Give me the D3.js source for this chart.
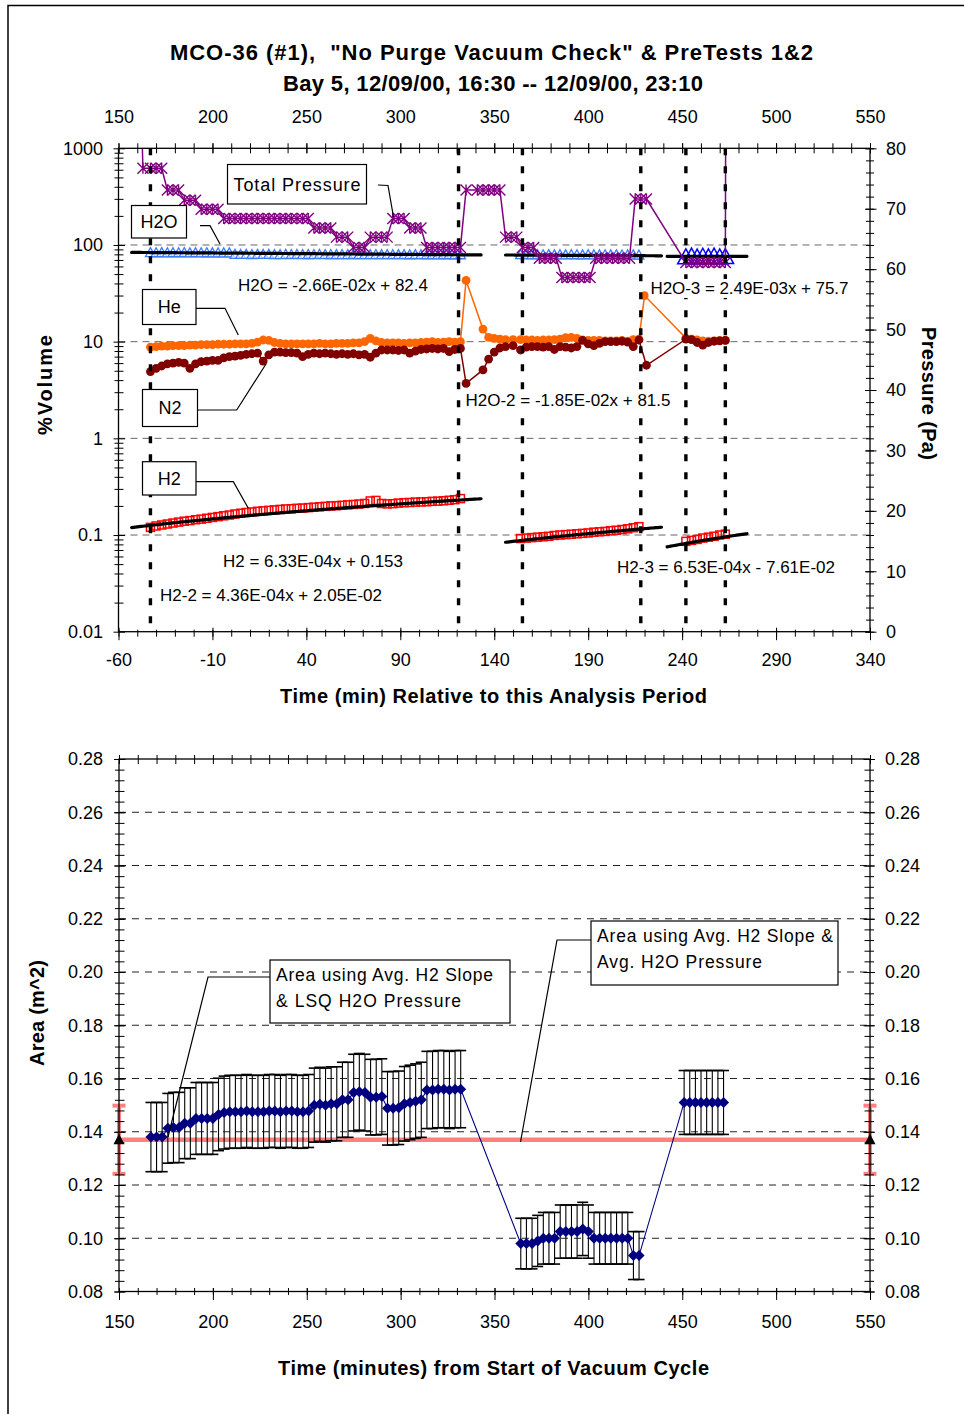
<!DOCTYPE html>
<html><head><meta charset="utf-8">
<script src="https://cdn.jsdelivr.net/npm/d3@7"></script>
<style>
html,body{margin:0;padding:0;background:#fff;}
svg{display:block;font-family:"Liberation Sans",Arial,Helvetica,sans-serif;}
text{white-space:pre;}
</style></head><body>
<svg id="chart" width="964" height="1414"></svg>
<script>
// ================= data =================
// Upper panel: minutes relative to this analysis period
const relTime1 = [-43,-40,-37,-34,-31,-28,-25,-22,-19,-16,
  -13,-10,-7,-4,-1,2,5,8,11,14,
  17,20,23,26,29,32,35,38,41,44,
  47,50,53,56,59,62,65,68,71,74,
  77,80,83,86,89,92,95,98,101,104,
  107,110,113,116,119,122];
const relTime2 = [154,157,160,163,166,169,172,175,178,181,184,187,190,193,196,199,202,205,208,211,214,217];
const relTime3 = [242,245,248,251,254,257,260,263];
const recoveryTime = [125,134,137,140,143,146,150];

// Total pressure (Pa), right axis
const tpTime = [-50,-47,
  -43,-40,-37,-34,-31,-28,-25,-22,-19,-16,
  -13,-10,-7,-4,-1,2,5,8,11,14,
  17,20,23,26,29,32,35,38,41,44,
  47,50,53,56,59,62,65,68,71,74,
  77,80,83,86,89,92,95,98,101,104,
  107,110,113,116,119,122,
  125,131,134,137,140,143,
  146,149,152,155,158,161,164,167,170,173,176,179,182,185,188,191,194,197,200,203,206,209,212,215,218,221,
  242,245,248,251,254,257,260,263,263.4];
const tpVal = [110,76.7,
  76.7,76.7,76.7,73.1,73.1,73.1,71.4,71.4,71.4,69.9,
  69.9,69.9,69.9,68.4,68.4,68.4,68.4,68.4,68.4,68.4,
  68.4,68.4,68.4,68.4,68.4,68.4,68.4,68.4,68.4,66.8,
  66.8,66.8,66.8,65.3,65.3,65.3,63.6,63.6,63.6,65.3,
  65.3,65.3,65.3,68.4,68.4,68.4,66.8,66.8,66.8,63.6,
  63.6,63.6,63.6,63.6,63.6,63.6,
  73.1,73.1,73.1,73.1,73.1,73.1,
  65.3,65.3,65.3,63.6,63.6,63.6,61.8,61.8,61.8,61.8,58.6,58.6,58.6,58.6,58.6,58.6,61.8,61.8,61.8,61.8,61.8,61.8,61.8,71.6,71.6,71.6,
  61.1,61.1,61.1,61.1,61.1,61.1,61.1,61.1,110];

// H2O (%Volume)
const h2oSeg1 = [83.4,83.2,83.5,83.1,83.3,83.2,83.4,83.0,83.3,83.1,
  83.2,83.0,83.1,82.9,83.0,80.1,79.9,80.2,79.8,80.0,
  79.9,80.1,79.8,79.7,80.0,79.8,79.9,79.6,79.8,79.7,
  79.9,79.6,79.8,79.5,79.7,79.6,79.8,79.5,79.6,79.4,
  79.7,79.5,79.6,79.4,79.5,79.6,79.3,79.5,79.4,79.3,
  79.5,79.2,79.4,79.3,79.1,79.3];
const h2oSeg2 = [79.4,79.6,79.2,79.5,79.3,79.6,79.1,79.4,79.2,79.5,79.3,79.0,79.4,79.2,79.1,79.3,79.0,79.2,78.9,79.1,79.0,78.8];
const h2oSeg3 = [75.0,76.2,74.6,76.0,74.8,76.3,74.7,75.5];

// He (%Volume)
const heSeg1 = [8.8,8.9,9.0,9.0,9.1,9.1,9.1,9.2,9.2,9.3,
  9.3,9.3,9.4,9.4,9.4,9.5,9.5,9.5,9.6,9.9,
  10.4,10.3,9.8,9.6,9.5,9.5,9.5,9.5,9.5,9.5,
  9.6,9.5,9.5,9.6,9.6,9.6,9.7,9.7,10.0,10.8,
  10.2,9.8,9.7,9.7,9.7,9.6,9.7,9.7,9.8,9.9,
  10.0,9.8,9.9,10.0,9.9,10.0];
const heRecovery = [43,13.5,11.1,10.8,10.6,10.5,10.5];
const heSeg2 = [10.5,10.4,10.4,10.3,10.4,10.4,10.5,10.6,11.0,11.1,10.8,10.4,10.3,10.3,10.3,10.2,10.2,10.2,10.3,10.1,10.5,10.6];
const hePeakTime = 220, hePeak = 30;
const heSeg3 = [10.9,10.6,10.4,10.2,10.1,10.2,10.3,10.3];

// N2 (%Volume)
const n2Seg1 = [4.9,5.3,5.6,5.9,6.0,6.1,6.0,5.3,5.9,6.2,
  6.3,6.4,6.4,6.8,7.0,7.1,7.2,7.4,7.5,7.6,
  6.3,7.3,7.8,7.8,7.7,7.7,7.6,7.0,7.4,7.6,
  7.5,7.6,7.5,7.4,7.5,7.4,7.5,7.3,7.4,6.9,
  7.6,8.2,8.2,8.2,8.1,8.2,7.6,8.0,8.3,8.4,
  8.5,8.4,8.5,7.9,8.3,8.5];
const n2Recovery = [3.7,5.1,6.6,7.8,8.6,8.9,9.1];
const n2Seg2 = [8.2,8.8,8.9,8.9,8.8,8.9,8.3,8.9,8.8,8.6,8.9,10.3,9.5,9.1,9.6,10.0,10.0,10.0,10.1,9.9,8.9,10.4];
const n2DipTime = 221, n2Dip = 5.7;
const n2Seg3 = [10.6,10.5,9.8,9.2,9.8,10.1,10.2,10.3];

// H2 (%Volume)
const h2Seg1 = [0.120,0.124,0.127,0.130,0.133,0.136,0.139,0.141,0.144,0.146,
  0.149,0.152,0.155,0.158,0.161,0.165,0.168,0.171,0.173,0.176,
  0.178,0.180,0.182,0.184,0.186,0.187,0.189,0.190,0.192,0.194,
  0.196,0.198,0.200,0.201,0.203,0.205,0.207,0.209,0.212,0.225,
  0.228,0.212,0.210,0.211,0.214,0.216,0.217,0.219,0.220,0.221,
  0.223,0.224,0.226,0.229,0.232,0.238];
const h2Seg2 = [0.092,0.093,0.094,0.095,0.096,0.097,0.099,0.100,0.101,0.102,0.103,0.104,0.105,0.107,0.108,0.109,0.111,0.112,0.114,0.116,0.119,0.122];
const h2Seg3 = [0.086,0.088,0.090,0.093,0.095,0.097,0.100,0.102];

// Least-squares fits quoted on the chart
const fitLabels = ["H2O = -2.66E-02x + 82.4","H2O-2 = -1.85E-02x + 81.5","H2O-3 = 2.49E-03x + 75.7",
                   "H2 = 6.33E-04x + 0.153","H2-2 = 4.36E-04x + 2.05E-02","H2-3 = 6.53E-04x - 7.61E-02"];
const fitSlope = [-2.66e-2,-1.85e-2,2.49e-3,6.33e-4,4.36e-4,6.53e-4];
const fitIntercept = [82.4,81.5,75.7,0.153,2.05e-2,-7.61e-2];
const fitStart = [-53,146,232,-53,146,232];
const fitEnd = [133,229,274.5,133,229,274.5];

// Analysis period boundaries (relative minutes)
const periodBounds = [-43,121,155,218,242,263];

// Lower panel: minutes from start of vacuum cycle
const cycTime1 = [167,170,173,176,179,182,185,188,191,194,
  197,200,203,206,209,212,215,218,221,224,
  227,230,233,236,239,242,245,248,251,254,
  257,260,263,266,269,272,275,278,281,284,
  287,290,293,296,299,302,305,308,311,314,
  317,320,323,326,329,332];
const area1 = [0.138,0.138,0.138,0.1413,0.1416,0.1416,0.1432,0.1432,0.145,0.145,
  0.145,0.145,0.1465,0.1472,0.1475,0.1475,0.1475,0.1478,0.1475,0.1475,
  0.1475,0.1478,0.1478,0.1475,0.1478,0.1478,0.1475,0.1475,0.1478,0.150,
  0.1503,0.150,0.1505,0.1505,0.152,0.152,0.1547,0.155,0.1547,0.153,
  0.153,0.1532,0.1488,0.1488,0.149,0.1505,0.151,0.1515,0.152,0.1557,
  0.1557,0.156,0.156,0.1557,0.156,0.156];
const areaErr1 = [0.0130,0.0130,0.0130,0.0131,0.0132,0.0132,0.0133,0.0133,0.0135,0.0135,
  0.0135,0.0135,0.0136,0.0137,0.0137,0.0137,0.0137,0.0137,0.0137,0.0137,
  0.0137,0.0137,0.0137,0.0137,0.0137,0.0137,0.0137,0.0137,0.0137,0.0139,
  0.0139,0.0139,0.0139,0.0139,0.0141,0.0141,0.0144,0.0144,0.0144,0.0142,
  0.0142,0.0142,0.0138,0.0138,0.0138,0.0140,0.0140,0.0140,0.0141,0.0145,
  0.0145,0.0145,0.0145,0.0145,0.0145,0.0145];
const cycTime2 = [364,367,370,373,376,379,382,385,388,391,394,397,400,403,406,409,412,415,418,421,424,427];
const area2 = [0.098,0.098,0.098,0.099,0.100,0.100,0.100,0.1025,0.1025,0.1025,0.1025,0.1035,0.1025,0.100,0.100,0.100,0.100,0.100,0.100,0.100,0.0935,0.0935];
const areaErr2 = [0.0095,0.0095,0.0095,0.0096,0.0097,0.0097,0.0097,0.0100,0.0100,0.0100,0.0100,0.0100,0.0100,0.0097,0.0097,0.0097,0.0097,0.0097,0.0097,0.0097,0.0090,0.0090];
const cycTime3 = [451,454,457,460,463,466,469,472];
const area3 = [0.151,0.151,0.151,0.151,0.151,0.151,0.151,0.151];
const areaErr3 = [0.012,0.012,0.012,0.012,0.012,0.012,0.012,0.012];
const avgArea = 0.137, avgAreaErr = 0.0128;

// Tick labels
const pctTicks = [0.01,0.1,1,10,100,1000];
const paTicks = [0,10,20,30,40,50,60,70,80];
const relTicks = [-60,-10,40,90,140,190,240,290,340];
const cycTicks = [150,200,250,300,350,400,450,500,550];
const areaTicks = [0.08,0.10,0.12,0.14,0.16,0.18,0.20,0.22,0.24,0.26,0.28];

// ================= drawing =================
const svg = d3.select("#chart");
const defs = svg.append("defs");

// page frame (top and left edges)
svg.append("polyline").attr("points","8,1414 8,5.5 964,5.5")
  .attr("fill","none").attr("stroke","#000").attr("stroke-width",1.5);

function styleAxis(g, side, inner) {
  g.select(".domain").remove();
  const ln = g.selectAll(".tick line").attr("stroke","#000");
  if (side === "left") ln.attr("x1", inner);
  if (side === "right") ln.attr("x1", -inner);
  if (side === "bottom") ln.attr("y1", -inner);
  if (side === "top") ln.attr("y1", inner);
  g.attr("font-size", null).attr("font-family", null);
  g.selectAll("text").attr("font-size", 18).attr("fill", "#000");
}

function addText(g, str, x, y, opts) {
  const t = g.append("text").attr("x", x).attr("y", y).text(str)
    .attr("font-size", opts.size || 17)
    .attr("font-weight", opts.bold ? "bold" : null)
    .attr("text-anchor", opts.anchor || "middle")
    .attr("dy", "0.35em").attr("fill", "#000");
  if (opts.len) t.attr("textLength", opts.len).attr("lengthAdjust", "spacing");
  if (opts.rotate) t.attr("transform", `rotate(${opts.rotate},${x},${y})`);
  return t;
}

const pts = (ts, vs) => ts.map((t, i) => [t, vs[i]]);
const plain = d => String(d);

// ---------- upper panel ----------
const P1 = {l:118.5, r:870, t:148.3, b:631.7};
const xRel = d3.scaleLinear().domain([-60,340]).range([P1.l,P1.r]);
const xCyc = d3.scaleLinear().domain([150,550]).range([P1.l,P1.r]);
const yPct = d3.scaleLog().domain([0.01,1000]).range([P1.b,P1.t]);
const yPa = d3.scaleLinear().domain([0,80]).range([P1.b,P1.t]);

defs.append("clipPath").attr("id","clipTop").append("rect")
  .attr("x",P1.l).attr("y",P1.t).attr("width",P1.r-P1.l).attr("height",P1.b-P1.t);

const upper = svg.append("g");
// gridlines
upper.selectAll("line.grid").data([0.1,1,10,100]).join("line")
  .attr("x1",P1.l).attr("x2",P1.r).attr("y1",d=>yPct(d)).attr("y2",d=>yPct(d))
  .attr("stroke","#666").attr("stroke-width",1).attr("stroke-dasharray","7,5");

const plot1 = upper.append("g").attr("clip-path","url(#clipTop)");

// H2O triangles
const tri = s => `M0,${-s*0.55}L${s*0.55},${s*0.45}L${-s*0.55},${s*0.45}Z`;
plot1.append("g").selectAll("path")
  .data(pts(relTime1.concat(relTime2), h2oSeg1.concat(h2oSeg2))).join("path")
  .attr("d", tri(9)).attr("transform", d=>`translate(${xRel(d[0])},${yPct(d[1])})`)
  .attr("fill","#ffffff").attr("fill-opacity",0.6).attr("stroke","#3b7bff").attr("stroke-width",1.3);
plot1.append("g").selectAll("path")
  .data(pts(relTime3, h2oSeg3)).join("path")
  .attr("d", tri(15)).attr("transform", d=>`translate(${xRel(d[0])},${yPct(d[1])})`)
  .attr("fill","none").attr("stroke","#0000ff").attr("stroke-width",1.5);

// He
const heData = pts(relTime1, heSeg1).concat(pts(recoveryTime, heRecovery), pts(relTime2, heSeg2),
  [[hePeakTime, hePeak]], pts(relTime3, heSeg3));
const linePct = d3.line().x(d=>xRel(d[0])).y(d=>yPct(d[1]));
plot1.append("path").attr("d", linePct(heData)).attr("fill","none").attr("stroke","#ff6600").attr("stroke-width",1.5);
plot1.append("g").selectAll("circle").data(heData).join("circle")
  .attr("cx",d=>xRel(d[0])).attr("cy",d=>yPct(d[1])).attr("r",4.4).attr("fill","#ff6600");

// N2
const n2Data = pts(relTime1, n2Seg1).concat(pts(recoveryTime, n2Recovery), pts(relTime2, n2Seg2),
  [[n2DipTime, n2Dip]], pts(relTime3, n2Seg3));
plot1.append("path").attr("d", linePct(n2Data)).attr("fill","none").attr("stroke","#800000").attr("stroke-width",1.5);
plot1.append("g").selectAll("circle").data(n2Data).join("circle")
  .attr("cx",d=>xRel(d[0])).attr("cy",d=>yPct(d[1])).attr("r",4.4).attr("fill","#800000");

// H2 squares
const h2Data = pts(relTime1, h2Seg1).concat(pts(relTime2, h2Seg2), pts(relTime3, h2Seg3));
plot1.append("g").selectAll("rect").data(h2Data).join("rect")
  .attr("x",d=>xRel(d[0])-4).attr("y",d=>yPct(d[1])-4).attr("width",8).attr("height",8)
  .attr("fill","none").attr("stroke","#ff0000").attr("stroke-width",1.5);

// fit lines
fitSlope.forEach((m, i) => {
  const ts = d3.range(fitStart[i], fitEnd[i], 1).concat([fitEnd[i]]);
  plot1.append("path").attr("d", linePct(ts.map(t => [t, m*t + fitIntercept[i]])))
    .attr("fill","none").attr("stroke","#000").attr("stroke-width",3.2).attr("stroke-linecap","round");
});

// Total pressure
const tpData = pts(tpTime, tpVal);
const linePa = d3.line().x(d=>xRel(d[0])).y(d=>yPa(d[1]));
plot1.append("path").attr("d", linePa(tpData)).attr("fill","none").attr("stroke","#800080").attr("stroke-width",1.5);
const star = s => `M${-s},${-s}L${s},${s}M${-s},${s}L${s},${-s}M0,${-s}L0,${s}`;
plot1.append("g").selectAll("path").data(tpData).join("path")
  .attr("d", star(5.5)).attr("transform", d=>`translate(${xRel(d[0])},${yPa(d[1])})`)
  .attr("fill","none").attr("stroke","#800080").attr("stroke-width",1.4);

// analysis period boundaries
upper.selectAll("line.bound").data(periodBounds).join("line")
  .attr("x1",d=>xRel(d)).attr("x2",d=>xRel(d)).attr("y1",P1.t).attr("y2",P1.b)
  .attr("stroke","#000").attr("stroke-width",3.4).attr("stroke-dasharray","7,11");

// fit equations
const eqX = [333,568,749.5,313,271,726], eqY = [285,400,288,561.5,595,567], eqLen = [190,205,198,180,222,218];
fitLabels.forEach((s, i) => {
  const t = addText(upper, s, eqX[i], eqY[i], {size:17, len:eqLen[i]});
  const bb = t.node().getBBox();
  upper.insert("rect", () => t.node()).attr("x",bb.x-2).attr("y",bb.y).attr("width",bb.width+4).attr("height",bb.height).attr("fill","#fff");
});

// series callouts
function callout(g, label, bx, by, bw, bh, len, leader) {
  g.append("polyline").attr("points", leader.map(p=>p.join(",")).join(" "))
    .attr("fill","none").attr("stroke","#000").attr("stroke-width",1.2);
  g.append("rect").attr("x",bx).attr("y",by).attr("width",bw).attr("height",bh)
    .attr("fill","#fff").attr("stroke","#000").attr("stroke-width",1.2);
  addText(g, label, bx+bw/2, by+bh/2, {size:18, len:len});
}
callout(upper, "Total Pressure", 227.5, 164.5, 139, 39.5, 127, [[378,185],[388,185.5],[393.5,217]]);
callout(upper, "H2O", 131.5, 205.5, 55, 32.5, null, [[200,225.7],[210,225.7],[220,244]]);
callout(upper, "He", 142.5, 289.5, 53.5, 35, null, [[196,308.3],[225,308.3],[238.3,335]]);
callout(upper, "N2", 142.5, 389.5, 55, 37, null, [[197,410],[236.7,410],[266,364]]);
callout(upper, "H2", 142.5, 461.7, 53.5, 33.3, null, [[196,481.7],[233.3,481.7],[248.3,508.3]]);

// axes
const minorPct = [];
[0.01,0.1,1,10,100].forEach(d => { for (let k=2;k<10;k++) minorPct.push(d*k); });
styleAxis(upper.append("g").attr("transform",`translate(${P1.l},0)`)
  .call(d3.axisLeft(yPct).tickValues(minorPct).tickSize(4).tickFormat("")), "left", 5);
styleAxis(upper.append("g").attr("transform",`translate(${P1.l},0)`)
  .call(d3.axisLeft(yPct).tickValues(pctTicks).tickSize(5).tickPadding(10.5).tickFormat(plain)), "left", 6.5);
styleAxis(upper.append("g").attr("transform",`translate(${P1.r},0)`)
  .call(d3.axisRight(yPa).tickValues(d3.range(0,81,2)).tickSize(4).tickFormat("")), "right", 4);
styleAxis(upper.append("g").attr("transform",`translate(${P1.r},0)`)
  .call(d3.axisRight(yPa).tickValues(paTicks).tickSize(6.5).tickPadding(9.5).tickFormat(plain)), "right", 5);
styleAxis(upper.append("g").attr("transform",`translate(0,${P1.b})`)
  .call(d3.axisBottom(xRel).tickValues(d3.range(-60,341,10)).tickSize(5).tickFormat("")), "bottom", 2);
styleAxis(upper.append("g").attr("transform",`translate(0,${P1.b})`)
  .call(d3.axisBottom(xRel).tickValues(relTicks).tickSize(8.5).tickPadding(13.5).tickFormat(plain)), "bottom", 4);
styleAxis(upper.append("g").attr("transform",`translate(0,${P1.t})`)
  .call(d3.axisTop(xCyc).tickValues(d3.range(150,551,10)).tickSize(5).tickFormat("")), "top", 5);
styleAxis(upper.append("g").attr("transform",`translate(0,${P1.t})`)
  .call(d3.axisTop(xCyc).tickValues(cycTicks).tickSize(5).tickPadding(19.9).tickFormat(plain)), "top", 5);
upper.append("rect").attr("x",P1.l).attr("y",P1.t).attr("width",P1.r-P1.l).attr("height",P1.b-P1.t)
  .attr("fill","none").attr("stroke","#000").attr("stroke-width",1.3);

// titles
addText(svg, 'MCO-36 (#1),  "No Purge Vacuum Check" & PreTests 1&2', 491.5, 52, {size:22, bold:true, len:643});
addText(svg, 'Bay 5, 12/09/00, 16:30 -- 12/09/00, 23:10', 493, 83, {size:22, bold:true, len:420});
addText(svg, "%Volume", 45, 385, {size:20, bold:true, len:100, rotate:-90});
addText(svg, "Pressure (Pa)", 929, 393.5, {size:20, bold:true, len:133, rotate:90});
addText(svg, "Time (min) Relative to this Analysis Period", 493.5, 696, {size:20, bold:true, len:427});

// ---------- lower panel ----------
const P2 = {l:119, r:870, t:759, b:1291.5};
const xB = d3.scaleLinear().domain([150,550]).range([P2.l,P2.r]);
const yB = d3.scaleLinear().domain([0.08,0.28]).range([P2.b,P2.t]);
const lower = svg.append("g");

lower.selectAll("line.grid").data(areaTicks.slice(1,-1)).join("line")
  .attr("x1",P2.l).attr("x2",P2.r).attr("y1",d=>yB(d)).attr("y2",d=>yB(d))
  .attr("stroke","#222").attr("stroke-width",1).attr("stroke-dasharray","7,6");

// average area with its spread
const salmon = "#ff8080";
lower.append("line").attr("x1",xB(150)).attr("x2",xB(550)).attr("y1",yB(avgArea)).attr("y2",yB(avgArea))
  .attr("stroke",salmon).attr("stroke-width",4.5);
[150,550].forEach(c => {
  const g = lower.append("g").attr("stroke",salmon).attr("stroke-width",4);
  g.append("line").attr("x1",xB(c)).attr("x2",xB(c)).attr("y1",yB(avgArea-avgAreaErr)).attr("y2",yB(avgArea+avgAreaErr));
  [avgArea-avgAreaErr, avgArea+avgAreaErr].forEach(v => g.append("line")
    .attr("x1",xB(c)-6.5).attr("x2",xB(c)+6.5).attr("y1",yB(v)).attr("y2",yB(v)));
  lower.append("path").attr("d","M0,-6L5.5,4.5L-5.5,4.5Z")
    .attr("transform",`translate(${xB(c)},${yB(avgArea)})`).attr("fill","#000");
});

const areaData = pts(cycTime1, area1).concat(pts(cycTime2, area2), pts(cycTime3, area3));
const errData = areaErr1.concat(areaErr2, areaErr3);
// error bars
const eb = lower.append("g").attr("stroke","#000").attr("stroke-width",1.1);
areaData.forEach((d, i) => {
  const x = xB(d[0]), lo = yB(d[1]-errData[i]), hi = yB(d[1]+errData[i]);
  eb.append("line").attr("x1",x).attr("x2",x).attr("y1",lo).attr("y2",hi);
  eb.append("line").attr("x1",x-5.5).attr("x2",x+5.5).attr("y1",lo).attr("y2",lo).attr("stroke-width",1.6);
  eb.append("line").attr("x1",x-5.5).attr("x2",x+5.5).attr("y1",hi).attr("y2",hi).attr("stroke-width",1.6);
});
lower.append("path").attr("d", d3.line().x(d=>xB(d[0])).y(d=>yB(d[1]))(areaData))
  .attr("fill","none").attr("stroke","#000080").attr("stroke-width",1.1);
lower.append("g").selectAll("path").data(areaData).join("path")
  .attr("d","M0,-5.5L5.5,0L0,5.5L-5.5,0Z").attr("transform",d=>`translate(${xB(d[0])},${yB(d[1])})`)
  .attr("fill","#000080");

// callouts
function boxNote(g, lines, bx, by, bw, bh, lens, leader) {
  g.append("polyline").attr("points", leader.map(p=>p.join(",")).join(" "))
    .attr("fill","none").attr("stroke","#000").attr("stroke-width",1.2);
  g.append("rect").attr("x",bx).attr("y",by).attr("width",bw).attr("height",bh)
    .attr("fill","#fff").attr("stroke","#000").attr("stroke-width",1.2);
  lines.forEach((s, i) => addText(g, s, bx+6, by+15+i*26, {size:17.5, anchor:"start", len:lens[i]}));
}
boxNote(lower, ["Area using Avg. H2 Slope","& LSQ H2O Pressure"], 270, 960, 240, 63, [217,185],
  [[270,977],[208,977],[168,1137]]);
boxNote(lower, ["Area using Avg. H2 Slope &","Avg. H2O Pressure"], 591, 921, 247, 64, [236,165],
  [[591,940],[557,940],[520.5,1142]]);

// axes
styleAxis(lower.append("g").attr("transform",`translate(${P2.l},0)`)
  .call(d3.axisLeft(yB).tickValues(d3.range(0,51).map(i=>0.08+i*0.004)).tickSize(4).tickFormat("")), "left", 5.5);
styleAxis(lower.append("g").attr("transform",`translate(${P2.l},0)`)
  .call(d3.axisLeft(yB).tickValues(areaTicks).tickSize(5).tickPadding(11).tickFormat(d3.format(".2f"))), "left", 6.5);
styleAxis(lower.append("g").attr("transform",`translate(${P2.r},0)`)
  .call(d3.axisRight(yB).tickValues(d3.range(0,51).map(i=>0.08+i*0.004)).tickSize(4).tickFormat("")), "right", 5.5);
styleAxis(lower.append("g").attr("transform",`translate(${P2.r},0)`)
  .call(d3.axisRight(yB).tickValues(areaTicks).tickSize(5).tickPadding(10).tickFormat(d3.format(".2f"))), "right", 6.5);
styleAxis(lower.append("g").attr("transform",`translate(0,${P2.b})`)
  .call(d3.axisBottom(xB).tickValues(d3.range(150,551,10)).tickSize(3.5).tickFormat("")), "bottom", 3.5);
styleAxis(lower.append("g").attr("transform",`translate(0,${P2.b})`)
  .call(d3.axisBottom(xB).tickValues(cycTicks).tickSize(8.5).tickPadding(15.6).tickFormat(plain)), "bottom", 3.5);
styleAxis(lower.append("g").attr("transform",`translate(0,${P2.t})`)
  .call(d3.axisTop(xB).tickValues(d3.range(150,551,10)).tickSize(4).tickFormat("")), "top", 5);
lower.append("rect").attr("x",P2.l).attr("y",P2.t).attr("width",P2.r-P2.l).attr("height",P2.b-P2.t)
  .attr("fill","none").attr("stroke","#000").attr("stroke-width",1.3);

addText(svg, "Area (m^2)", 37, 1013, {size:20, bold:true, len:106, rotate:-90});
addText(svg, "Time (minutes) from Start of Vacuum Cycle", 493.5, 1368, {size:20, bold:true, len:431});
</script></body></html>
